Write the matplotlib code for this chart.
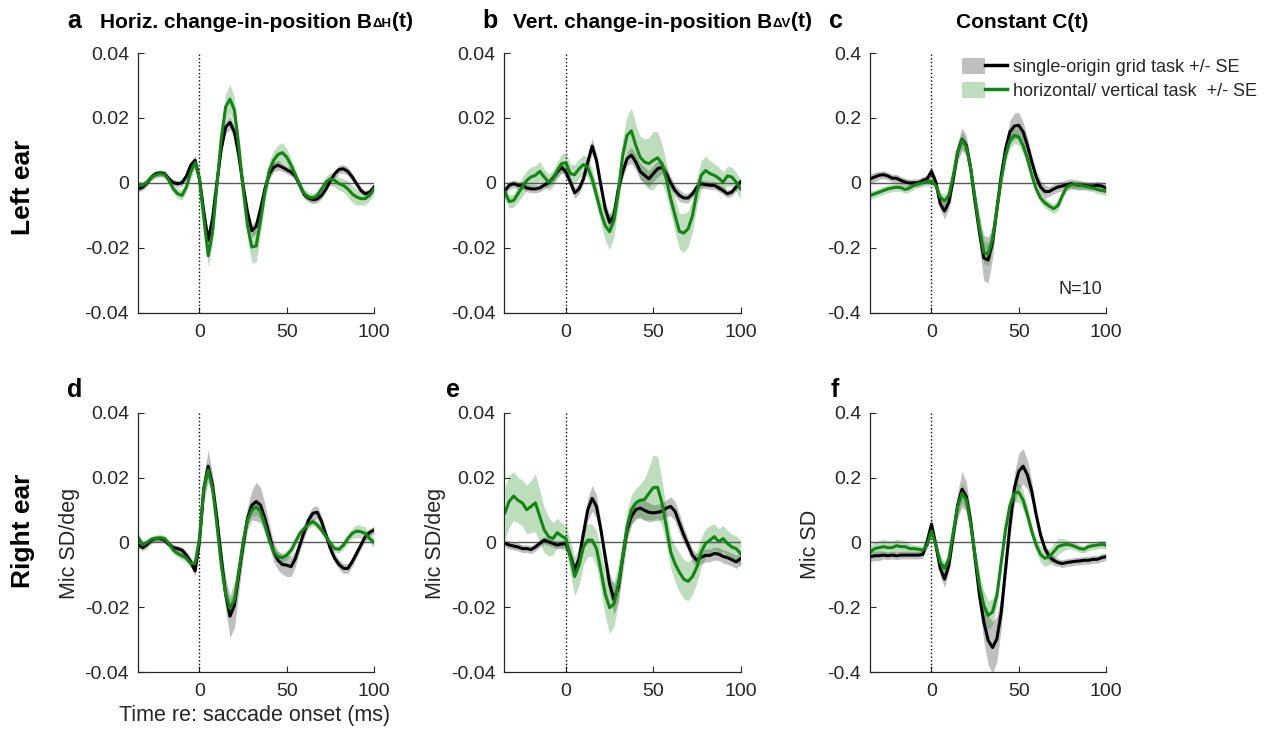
import numpy as np
import matplotlib.pyplot as plt
from matplotlib.patches import Patch
from matplotlib.lines import Line2D
from matplotlib.legend_handler import HandlerTuple

plt.rcParams['font.family'] = ['Liberation Sans', 'DejaVu Sans']
plt.rcParams['axes.unicode_minus'] = False

# sample times, ms relative to saccade onset
time_ms = np.arange(-35, 100.1, 2.5)

# panel a: horizontal change-in-position, left ear
a_black = [-0.0019, -0.0013, 0.0000, 0.0018, 0.0028, 0.0030, 0.0028, 0.0012, 0.0000, -0.0003, 0.0000, 0.0020, 0.0054, 0.0069, 0.0012,
           -0.0090, -0.0178, -0.0110, 0.0000, 0.0105, 0.0172, 0.0186, 0.0157, 0.0085, -0.0008, -0.0090, -0.0148, -0.0135, -0.0080, -0.0019,
           0.0028, 0.0048, 0.0054, 0.0048, 0.0040, 0.0033, 0.0020, -0.0008, -0.0037, -0.0047, -0.0052, -0.0050, -0.0039, -0.0019, 0.0007,
           0.0028, 0.0041, 0.0043, 0.0035, 0.0018, -0.0003, -0.0024, -0.0034, -0.0029, -0.0013]
a_black_se = [0.0010, 0.0010, 0.0010, 0.0010, 0.0010, 0.0010, 0.0010, 0.0010, 0.0010, 0.0010, 0.0010, 0.0010, 0.0012, 0.0015, 0.0012,
              0.0015, 0.0018, 0.0015, 0.0012, 0.0015, 0.0020, 0.0022, 0.0020, 0.0015, 0.0012, 0.0015, 0.0020, 0.0020, 0.0015, 0.0015,
              0.0015, 0.0015, 0.0015, 0.0013, 0.0013, 0.0013, 0.0012, 0.0010, 0.0010, 0.0010, 0.0012, 0.0012, 0.0010, 0.0010, 0.0010,
              0.0012, 0.0013, 0.0013, 0.0013, 0.0012, 0.0010, 0.0010, 0.0010, 0.0010, 0.0010]
a_green = [-0.0008, -0.0008, 0.0002, 0.0018, 0.0025, 0.0028, 0.0026, 0.0007, -0.0019, -0.0034, -0.0039, -0.0013, 0.0033, 0.0062, 0.0012,
           -0.0110, -0.0225, -0.0153, -0.0008, 0.0136, 0.0234, 0.0258, 0.0224, 0.0115, -0.0019, -0.0132, -0.0198, -0.0195, -0.0116, -0.0029,
           0.0038, 0.0069, 0.0087, 0.0093, 0.0079, 0.0054, 0.0023, -0.0008, -0.0034, -0.0044, -0.0047, -0.0039, -0.0019, 0.0002, 0.0012,
           0.0007, -0.0003, -0.0008, -0.0019, -0.0034, -0.0044, -0.0049, -0.0049, -0.0039, -0.0019]
a_green_se = [0.0012, 0.0012, 0.0010, 0.0010, 0.0010, 0.0010, 0.0010, 0.0010, 0.0012, 0.0015, 0.0015, 0.0015, 0.0018, 0.0020, 0.0020,
              0.0025, 0.0035, 0.0030, 0.0025, 0.0030, 0.0040, 0.0045, 0.0040, 0.0030, 0.0025, 0.0035, 0.0050, 0.0050, 0.0040, 0.0030,
              0.0030, 0.0030, 0.0030, 0.0030, 0.0025, 0.0020, 0.0018, 0.0015, 0.0015, 0.0015, 0.0015, 0.0015, 0.0015, 0.0018, 0.0020,
              0.0020, 0.0020, 0.0020, 0.0025, 0.0025, 0.0025, 0.0020, 0.0020, 0.0015, 0.0015]

# panel b: vertical change-in-position, left ear
b_black = [-0.0024, -0.0008, -0.0003, -0.0008, -0.0008, -0.0016, -0.0019, -0.0019, -0.0016, -0.0008, 0.0000, 0.0014, 0.0033, 0.0048, 0.0033,
           0.0002, -0.0031, -0.0019, 0.0012, 0.0064, 0.0113, 0.0069, -0.0008, -0.0080, -0.0122, -0.0101, -0.0019, 0.0033, 0.0074, 0.0085,
           0.0064, 0.0035, 0.0023, 0.0012, 0.0028, 0.0043, 0.0048, 0.0028, 0.0000, -0.0024, -0.0039, -0.0047, -0.0047, -0.0034, -0.0013,
           -0.0003, -0.0006, -0.0008, -0.0008, -0.0016, -0.0024, -0.0034, -0.0029, -0.0013, 0.0002]
b_black_se = [0.0012, 0.0012, 0.0012, 0.0012, 0.0012, 0.0012, 0.0012, 0.0012, 0.0012, 0.0012, 0.0012, 0.0015, 0.0015, 0.0015, 0.0015,
              0.0015, 0.0018, 0.0015, 0.0015, 0.0020, 0.0025, 0.0020, 0.0018, 0.0020, 0.0025, 0.0020, 0.0018, 0.0020, 0.0020, 0.0025,
              0.0025, 0.0025, 0.0025, 0.0025, 0.0025, 0.0025, 0.0020, 0.0020, 0.0020, 0.0018, 0.0018, 0.0015, 0.0015, 0.0012, 0.0012,
              0.0012, 0.0012, 0.0012, 0.0012, 0.0012, 0.0012, 0.0012, 0.0012, 0.0012, 0.0012]
b_green = [-0.0029, -0.0058, -0.0055, -0.0034, -0.0013, 0.0007, 0.0018, 0.0023, 0.0035, 0.0018, 0.0002, 0.0012, 0.0038, 0.0059, 0.0062,
           0.0028, 0.0025, 0.0043, 0.0056, 0.0048, 0.0012, -0.0039, -0.0091, -0.0132, -0.0151, -0.0116, -0.0029, 0.0085, 0.0146, 0.0160,
           0.0115, 0.0079, 0.0064, 0.0059, 0.0069, 0.0077, 0.0059, 0.0012, -0.0049, -0.0101, -0.0150, -0.0155, -0.0142, -0.0101, -0.0029,
           0.0023, 0.0038, 0.0028, 0.0023, 0.0014, 0.0002, 0.0021, 0.0018, 0.0002, -0.0019]
b_green_se = [0.0020, 0.0020, 0.0020, 0.0025, 0.0030, 0.0030, 0.0030, 0.0030, 0.0030, 0.0025, 0.0025, 0.0025, 0.0025, 0.0030, 0.0030,
              0.0030, 0.0030, 0.0030, 0.0030, 0.0030, 0.0030, 0.0030, 0.0035, 0.0045, 0.0055, 0.0050, 0.0045, 0.0050, 0.0060, 0.0070,
              0.0065, 0.0065, 0.0070, 0.0080, 0.0090, 0.0080, 0.0060, 0.0050, 0.0045, 0.0050, 0.0055, 0.0060, 0.0055, 0.0050, 0.0045,
              0.0045, 0.0045, 0.0040, 0.0035, 0.0035, 0.0030, 0.0030, 0.0030, 0.0030, 0.0030]

# panel c: constant term, left ear
c_black = [0.012, 0.018, 0.023, 0.025, 0.021, 0.014, 0.014, 0.007, 0.002, -0.001, 0.000, 0.000, 0.007, 0.012, 0.035,
           0.002, -0.065, -0.087, -0.060, 0.012, 0.095, 0.134, 0.115, 0.043, -0.060, -0.153, -0.232, -0.238, -0.183, -0.080,
           0.023, 0.105, 0.157, 0.175, 0.177, 0.157, 0.115, 0.064, 0.018, -0.013, -0.027, -0.027, -0.019, -0.013, -0.010,
           -0.006, -0.003, -0.006, -0.008, -0.008, -0.010, -0.010, -0.008, -0.010, -0.016]
c_black_se = [0.015, 0.015, 0.012, 0.012, 0.012, 0.012, 0.012, 0.012, 0.012, 0.012, 0.012, 0.012, 0.012, 0.012, 0.015,
              0.015, 0.020, 0.025, 0.020, 0.020, 0.030, 0.035, 0.030, 0.025, 0.030, 0.050, 0.070, 0.070, 0.050, 0.030,
              0.025, 0.030, 0.035, 0.040, 0.040, 0.030, 0.025, 0.020, 0.020, 0.020, 0.020, 0.015, 0.015, 0.015, 0.015,
              0.015, 0.015, 0.015, 0.015, 0.012, 0.012, 0.012, 0.012, 0.012, 0.012]
c_green = [-0.039, -0.034, -0.029, -0.024, -0.019, -0.016, -0.014, -0.015, -0.021, -0.016, -0.008, -0.003, 0.000, 0.004, 0.004,
           -0.008, -0.044, -0.056, -0.039, 0.023, 0.095, 0.132, 0.110, 0.043, -0.049, -0.142, -0.215, -0.220, -0.173, -0.080,
           0.012, 0.085, 0.131, 0.146, 0.141, 0.115, 0.074, 0.023, -0.019, -0.047, -0.062, -0.072, -0.080, -0.070, -0.039,
           -0.013, -0.006, -0.006, -0.008, -0.010, -0.013, -0.016, -0.021, -0.024, -0.027]
c_green_se = [0.012, 0.012, 0.012, 0.012, 0.012, 0.012, 0.012, 0.012, 0.012, 0.012, 0.012, 0.012, 0.012, 0.012, 0.012,
              0.012, 0.015, 0.020, 0.015, 0.015, 0.020, 0.025, 0.020, 0.020, 0.025, 0.030, 0.035, 0.035, 0.030, 0.025,
              0.020, 0.020, 0.025, 0.025, 0.025, 0.025, 0.020, 0.015, 0.015, 0.015, 0.015, 0.015, 0.015, 0.015, 0.012,
              0.012, 0.012, 0.012, 0.012, 0.012, 0.012, 0.012, 0.012, 0.012, 0.012]

# panel d: horizontal change-in-position, right ear
d_black = [-0.0008, -0.0016, -0.0006, 0.0007, 0.0012, 0.0012, 0.0007, -0.0006, -0.0016, -0.0019, -0.0024, -0.0039, -0.0060, -0.0088, 0.0002,
           0.0167, 0.0235, 0.0177, 0.0074, -0.0049, -0.0160, -0.0227, -0.0194, -0.0101, -0.0008, 0.0074, 0.0115, 0.0126, 0.0115, 0.0074,
           0.0023, -0.0029, -0.0055, -0.0068, -0.0070, -0.0075, -0.0049, -0.0008, 0.0033, 0.0069, 0.0090, 0.0093, 0.0064, 0.0023, -0.0019,
           -0.0049, -0.0068, -0.0080, -0.0080, -0.0060, -0.0034, -0.0008, 0.0018, 0.0031, 0.0038]
d_black_se = [0.0010, 0.0010, 0.0010, 0.0010, 0.0010, 0.0010, 0.0010, 0.0010, 0.0010, 0.0010, 0.0010, 0.0012, 0.0015, 0.0015, 0.0020,
              0.0040, 0.0050, 0.0035, 0.0030, 0.0035, 0.0050, 0.0065, 0.0070, 0.0055, 0.0040, 0.0035, 0.0045, 0.0060, 0.0055, 0.0045,
              0.0035, 0.0030, 0.0030, 0.0030, 0.0035, 0.0030, 0.0025, 0.0020, 0.0020, 0.0020, 0.0020, 0.0020, 0.0018, 0.0015, 0.0015,
              0.0015, 0.0015, 0.0015, 0.0015, 0.0015, 0.0012, 0.0012, 0.0012, 0.0012, 0.0012]
d_green = [0.0014, -0.0008, 0.0000, 0.0010, 0.0012, 0.0014, 0.0012, -0.0003, -0.0024, -0.0034, -0.0041, -0.0049, -0.0065, -0.0065, 0.0012,
           0.0167, 0.0224, 0.0167, 0.0054, -0.0070, -0.0160, -0.0204, -0.0178, -0.0091, 0.0002, 0.0069, 0.0100, 0.0110, 0.0095, 0.0054,
           0.0007, -0.0029, -0.0044, -0.0047, -0.0039, -0.0024, 0.0002, 0.0028, 0.0043, 0.0056, 0.0064, 0.0054, 0.0038, 0.0018, -0.0003,
           -0.0019, -0.0021, -0.0008, 0.0012, 0.0028, 0.0035, 0.0033, 0.0028, 0.0012, 0.0000]
d_green_se = [0.0015, 0.0012, 0.0010, 0.0010, 0.0010, 0.0010, 0.0010, 0.0010, 0.0010, 0.0012, 0.0012, 0.0012, 0.0012, 0.0012, 0.0015,
              0.0020, 0.0020, 0.0015, 0.0015, 0.0020, 0.0025, 0.0030, 0.0025, 0.0020, 0.0015, 0.0015, 0.0020, 0.0025, 0.0025, 0.0020,
              0.0015, 0.0015, 0.0015, 0.0015, 0.0015, 0.0012, 0.0012, 0.0012, 0.0012, 0.0012, 0.0012, 0.0012, 0.0012, 0.0012, 0.0012,
              0.0012, 0.0012, 0.0012, 0.0015, 0.0015, 0.0020, 0.0020, 0.0020, 0.0015, 0.0015]

# panel e: vertical change-in-position, right ear
e_black = [-0.0003, -0.0008, -0.0011, -0.0014, -0.0019, -0.0019, -0.0022, -0.0014, -0.0003, 0.0007, 0.0002, -0.0003, -0.0008, -0.0005, -0.0003,
           -0.0040, -0.0085, -0.0050, 0.0028, 0.0101, 0.0136, 0.0111, 0.0039, -0.0045, -0.0128, -0.0176, -0.0139, -0.0045, 0.0039, 0.0080,
           0.0101, 0.0106, 0.0099, 0.0093, 0.0091, 0.0093, 0.0096, 0.0106, 0.0111, 0.0096, 0.0059, 0.0023, -0.0008, -0.0040, -0.0055,
           -0.0045, -0.0040, -0.0040, -0.0034, -0.0036, -0.0043, -0.0047, -0.0053, -0.0060, -0.0050]
e_black_se = [0.0012, 0.0012, 0.0012, 0.0012, 0.0012, 0.0012, 0.0012, 0.0012, 0.0012, 0.0012, 0.0012, 0.0012, 0.0012, 0.0012, 0.0015,
              0.0020, 0.0020, 0.0020, 0.0025, 0.0035, 0.0040, 0.0035, 0.0025, 0.0025, 0.0035, 0.0045, 0.0040, 0.0030, 0.0025, 0.0025,
              0.0030, 0.0030, 0.0030, 0.0030, 0.0025, 0.0025, 0.0025, 0.0025, 0.0030, 0.0030, 0.0030, 0.0025, 0.0020, 0.0020, 0.0020,
              0.0020, 0.0020, 0.0020, 0.0020, 0.0020, 0.0020, 0.0020, 0.0020, 0.0020, 0.0020]
e_green = [0.0091, 0.0127, 0.0143, 0.0130, 0.0122, 0.0101, 0.0111, 0.0122, 0.0080, 0.0039, 0.0018, 0.0012, 0.0030, 0.0020, 0.0012,
           -0.0045, -0.0105, -0.0071, -0.0014, 0.0007, 0.0007, -0.0019, -0.0086, -0.0159, -0.0201, -0.0190, -0.0128, -0.0045, 0.0049, 0.0101,
           0.0122, 0.0130, 0.0132, 0.0151, 0.0169, 0.0170, 0.0122, 0.0049, -0.0029, -0.0066, -0.0092, -0.0113, -0.0120, -0.0105, -0.0076,
           -0.0029, -0.0003, 0.0007, 0.0018, 0.0002, 0.0012, -0.0003, -0.0014, -0.0019, -0.0034]
e_green_se = [0.0080, 0.0080, 0.0075, 0.0070, 0.0070, 0.0075, 0.0080, 0.0090, 0.0080, 0.0070, 0.0060, 0.0050, 0.0045, 0.0040, 0.0040,
              0.0050, 0.0060, 0.0060, 0.0055, 0.0050, 0.0050, 0.0055, 0.0060, 0.0070, 0.0080, 0.0070, 0.0060, 0.0055, 0.0050, 0.0045,
              0.0045, 0.0050, 0.0065, 0.0080, 0.0100, 0.0095, 0.0070, 0.0055, 0.0050, 0.0055, 0.0060, 0.0060, 0.0060, 0.0055, 0.0050,
              0.0045, 0.0045, 0.0045, 0.0040, 0.0040, 0.0040, 0.0040, 0.0040, 0.0040, 0.0040]

# panel f: constant term, right ear
f_black = [-0.044, -0.041, -0.041, -0.039, -0.041, -0.039, -0.041, -0.039, -0.039, -0.039, -0.039, -0.039, -0.037, 0.002, 0.056,
           -0.008, -0.080, -0.113, -0.070, 0.023, 0.115, 0.164, 0.141, 0.064, -0.049, -0.163, -0.245, -0.302, -0.324, -0.297,
           -0.214, -0.080, 0.054, 0.167, 0.219, 0.235, 0.208, 0.157, 0.085, 0.023, -0.019, -0.044, -0.055, -0.062, -0.065,
           -0.062, -0.060, -0.058, -0.057, -0.055, -0.055, -0.052, -0.052, -0.047, -0.044]
f_black_se = [0.015, 0.015, 0.015, 0.012, 0.012, 0.012, 0.012, 0.012, 0.012, 0.012, 0.012, 0.012, 0.012, 0.015, 0.025,
              0.020, 0.025, 0.025, 0.020, 0.025, 0.040, 0.055, 0.045, 0.030, 0.030, 0.040, 0.060, 0.075, 0.080, 0.070,
              0.050, 0.035, 0.035, 0.045, 0.055, 0.055, 0.045, 0.030, 0.020, 0.015, 0.015, 0.015, 0.015, 0.012, 0.012,
              0.012, 0.012, 0.012, 0.012, 0.012, 0.012, 0.012, 0.012, 0.012, 0.012]
f_green = [-0.029, -0.019, -0.016, -0.013, -0.016, -0.016, -0.010, -0.013, -0.013, -0.019, -0.019, -0.021, -0.024, -0.008, 0.035,
           -0.008, -0.060, -0.080, -0.049, 0.033, 0.110, 0.152, 0.131, 0.054, -0.039, -0.132, -0.194, -0.225, -0.214, -0.163,
           -0.060, 0.043, 0.115, 0.152, 0.155, 0.131, 0.085, 0.033, -0.008, -0.037, -0.049, -0.044, -0.029, -0.013, -0.008,
           -0.006, -0.008, -0.013, -0.019, -0.021, -0.013, -0.010, -0.008, -0.006, -0.008]
f_green_se = [0.020, 0.020, 0.022, 0.022, 0.022, 0.022, 0.020, 0.020, 0.018, 0.015, 0.012, 0.012, 0.012, 0.012, 0.015,
              0.015, 0.020, 0.020, 0.015, 0.020, 0.025, 0.030, 0.025, 0.020, 0.025, 0.035, 0.045, 0.045, 0.040, 0.030,
              0.025, 0.025, 0.030, 0.030, 0.030, 0.030, 0.025, 0.020, 0.020, 0.025, 0.025, 0.025, 0.025, 0.025, 0.020,
              0.015, 0.012, 0.012, 0.012, 0.012, 0.012, 0.012, 0.012, 0.012, 0.012]

small_ticks = [-0.04, -0.02, 0, 0.02, 0.04]
small_labels = ['-0.04', '-0.02', '0', '0.02', '0.04']
big_ticks = [-0.4, -0.2, 0, 0.2, 0.4]
big_labels = ['-0.4', '-0.2', '0', '0.2', '0.4']
x_ticks = [0, 50, 100]
legend_labels = ['single-origin grid task +/- SE', 'horizontal/ vertical task  +/- SE']

green = '#128512'
dark = '#262626'

W, H = 1272, 733
fig = plt.figure(figsize=(W / 100, H / 100), dpi=100)


def fx(x):
    return x / W


def fy(y):
    return 1 - y / H


col_left = [137.5, 504, 869.5]
row_top = [53, 412.7]
ax_w, ax_h = 236.5, 259.5

panels = [
    (0, 0, a_black, a_black_se, a_green, a_green_se, small_ticks, small_labels),
    (0, 1, b_black, b_black_se, b_green, b_green_se, small_ticks, small_labels),
    (0, 2, c_black, c_black_se, c_green, c_green_se, big_ticks, big_labels),
    (1, 0, d_black, d_black_se, d_green, d_green_se, small_ticks, small_labels),
    (1, 1, e_black, e_black_se, e_green, e_green_se, small_ticks, small_labels),
    (1, 2, f_black, f_black_se, f_green, f_green_se, big_ticks, big_labels),
]

axes = {}
for row, col, blk, blk_se, grn, grn_se, yt, ylab in panels:
    ax = fig.add_axes([fx(col_left[col]), fy(row_top[row] + ax_h), ax_w / W, ax_h / H])
    axes[(row, col)] = ax
    blk, blk_se = np.array(blk), np.array(blk_se)
    grn, grn_se = np.array(grn), np.array(grn_se)

    ax.fill_between(time_ms, blk - blk_se, blk + blk_se, color='k', alpha=0.25, lw=0)
    ax.fill_between(time_ms, grn - grn_se, grn + grn_se, color=green, alpha=0.28, lw=0)
    ax.axhline(0, color='#5a5a5a', lw=1.0)
    ax.axvline(0, color='k', ls=':', lw=1.0)
    ax.plot(time_ms, blk, color='k', lw=2.2)
    ax.plot(time_ms, grn, color=green, lw=2.2)

    ax.set_xlim(-35.5, 100)
    ax.set_ylim(yt[0], yt[-1])
    ax.set_xticks(x_ticks)
    ax.set_xticklabels([str(t) for t in x_ticks])
    ax.set_yticks(yt)
    ax.set_yticklabels(ylab)
    for side in ['top', 'right']:
        ax.spines[side].set_visible(False)
    for side in ['left', 'bottom']:
        ax.spines[side].set_color(dark)
        ax.spines[side].set_linewidth(0.9)
    ax.tick_params(direction='in', length=4, width=0.8, colors=dark, labelsize=14)
    ax.tick_params(axis='y', pad=6)
    ax.tick_params(axis='x', pad=8)


# panel titles, with the small-caps subscript built from chained pieces
def add_title(ax, x_px, text, sub=None, tail=None, size=15):
    t1 = fig.text(fx(x_px), fy(27.5), text, fontsize=size, fontweight='bold', va='baseline')
    if sub is None:
        return
    t2 = ax.annotate(sub, xy=(1, 0), xycoords=t1, xytext=(0.3, 0.21 * size), textcoords='offset points',
                     fontsize=9.5, fontweight='bold', va='baseline', annotation_clip=False)
    ax.annotate(tail, xy=(1, 0), xycoords=t2, xytext=(0.3, 0.21 * 9.5), textcoords='offset points',
                fontsize=size, fontweight='bold', va='baseline', annotation_clip=False)


letter_kw = dict(fontsize=18, fontweight='bold', va='baseline')
for letter, x_px, y_px in [('a', 67, 27.5), ('b', 482, 27.5), ('c', 829, 27.5),
                           ('d', 67, 397), ('e', 446, 397), ('f', 831, 397)]:
    fig.text(fx(x_px), fy(y_px), letter, **letter_kw)

add_title(axes[(0, 0)], 100, 'Horiz. change-in-position B', 'ΔH', '(t)')
add_title(axes[(0, 1)], 513, 'Vert. change-in-position B', 'ΔV', '(t)')
add_title(axes[(0, 2)], 956, 'Constant C(t)')

# row labels and axis labels
fig.text(fx(23), fy(187), 'Left ear', rotation=90, ha='center', va='center', fontsize=19, fontweight='bold')
fig.text(fx(23), fy(531), 'Right ear', rotation=90, ha='center', va='center', fontsize=19, fontweight='bold')
fig.text(fx(70), fy(543), 'Mic SD/deg', rotation=90, ha='center', va='center', fontsize=15.5, color=dark)
fig.text(fx(436), fy(543), 'Mic SD/deg', rotation=90, ha='center', va='center', fontsize=15.5, color=dark)
fig.text(fx(811), fy(544), 'Mic SD', rotation=90, ha='center', va='center', fontsize=15.5, color=dark)
fig.text(fx(255), fy(716), 'Time re: saccade onset (ms)', ha='center', va='center', fontsize=15.5, color=dark)
fig.text(fx(1102), fy(290), 'N=10', ha='right', va='center', fontsize=13, color=dark)

# legend: line over its SE band
h_black = (Patch(facecolor='k', alpha=0.25, lw=0), Line2D([], [], color='k', lw=2.5))
h_green = (Patch(facecolor=green, alpha=0.28, lw=0), Line2D([], [], color=green, lw=2.5))
leg = axes[(0, 2)].legend([h_black, h_green], legend_labels,
                          handler_map={tuple: HandlerTuple(ndivide=None, pad=0)},
                          loc='upper left', bbox_to_anchor=(fx(962), fy(58)), bbox_transform=fig.transFigure,
                          frameon=False, borderpad=0, borderaxespad=0, fontsize=13,
                          handlelength=2.5, handleheight=0.95, handletextpad=0.3, labelspacing=0.35)
for txt in leg.get_texts():
    txt.set_color(dark)

fig.savefig('out.png', dpi=100)
